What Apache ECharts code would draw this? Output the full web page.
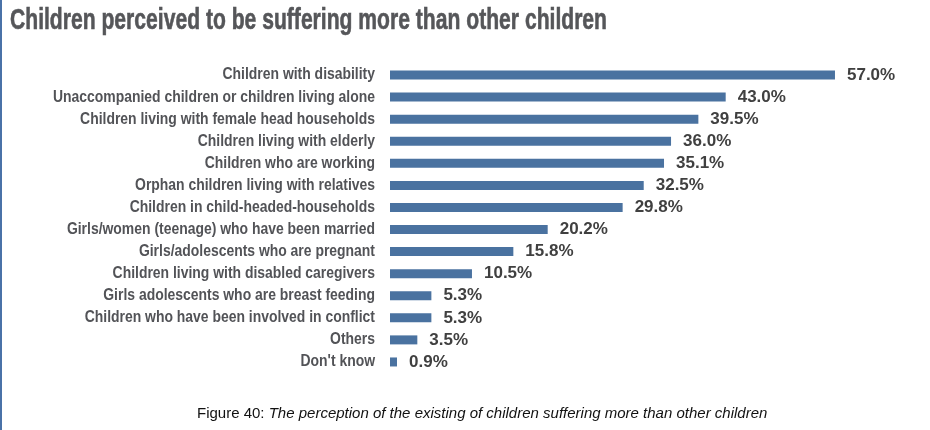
<!DOCTYPE html>
<html><head><meta charset="utf-8">
<script src="https://cdn.jsdelivr.net/npm/echarts@6/dist/echarts.min.js"></script>
<style>html,body{margin:0;padding:0;background:#fff}#c{width:930px;height:430px}</style>
</head><body><div id="c"></div>
<script>
const categories = [
  "Children with disability",
  "Unaccompanied children or children living alone",
  "Children living with female head households",
  "Children living with elderly",
  "Children who are working",
  "Orphan children living with relatives",
  "Children in child-headed-households",
  "Girls/women (teenage) who have been married",
  "Girls/adolescents who are pregnant",
  "Children living with disabled caregivers",
  "Girls adolescents who are breast feeding",
  "Children who have been involved in conflict",
  "Others",
  "Don't know"
];
const values = [57.0, 43.0, 39.5, 36.0, 35.1, 32.5, 29.8, 20.2, 15.8, 10.5, 5.3, 5.3, 3.5, 0.9];
const titleText = "Children perceived to be suffering more than other children";
const captionLabel = "Figure 40:";
const captionText = " The perception of the existing of children suffering more than other children";

const FONT = '"Liberation Sans",Arial,sans-serif';
const labelFont = 'bold 16px ' + FONT;
const titleFont = 'bold 29px ' + FONT;
const mctx = document.createElement('canvas').getContext('2d');
function w(font, t) { mctx.font = font; return mctx.measureText(t).width; }
const longest = categories.reduce((a, b) => w(labelFont, a) > w(labelFont, b) ? a : b);
const labelScale = 322 / w(labelFont, longest);
const titleScale = 597 / w(titleFont, titleText);

const chart = echarts.init(document.getElementById('c'));
chart.setOption({
  backgroundColor: '#fff',
  animation: false,
  title: [{
    text: '{a|' + captionLabel + '}{b|' + captionText + '}',
    left: 192, top: 401,
    textStyle: { fontWeight: 'normal', rich: {
      a: { fontFamily: FONT, fontSize: 15, fontWeight: 'normal', color: '#111' },
      b: { fontFamily: FONT, fontSize: 15, fontWeight: 'normal', fontStyle: 'italic', color: '#111' }
    } }
  }],
  graphic: [
    { type: 'rect', shape: { x: 0, y: 0, width: 2, height: 430 }, style: { fill: '#4a72a8' } },
    { type: 'text', x: 10, y: 21, scaleX: titleScale,
      style: { text: titleText, font: titleFont, fill: '#555659', stroke: '#555659', lineWidth: 0.6, align: 'left', verticalAlign: 'middle' } }
  ],
  grid: { left: 390, right: 71.6, top: 64, bottom: 57, containLabel: false },
  xAxis: { type: 'value', min: 0, max: 60, show: false },
  yAxis: {
    type: 'category', data: categories, inverse: true,
    axisLine: { show: false }, axisTick: { show: false }, axisLabel: { show: false }
  },
  series: [{
    type: 'bar', data: values, barWidth: 9,
    itemStyle: { color: '#4a72a0' },
    label: { show: true, position: 'right', distance: 12, formatter: p => p.value.toFixed(1) + '%',
      fontFamily: FONT, fontWeight: 'bold', fontSize: 17, color: '#404040' }
  }, {
    type: 'custom',
    data: categories.map(c => [0, c]),
    encode: { x: 0, y: 1 },
    silent: true,
    renderItem: function (params, api) {
      const p = api.coord([0, api.value(1)]);
      return { type: 'text', x: p[0] - 15, y: p[1], scaleX: labelScale,
        style: { text: categories[params.dataIndex], font: labelFont, fill: '#525357', align: 'right', verticalAlign: 'middle' } };
    }
  }]
});
</script></body></html>
